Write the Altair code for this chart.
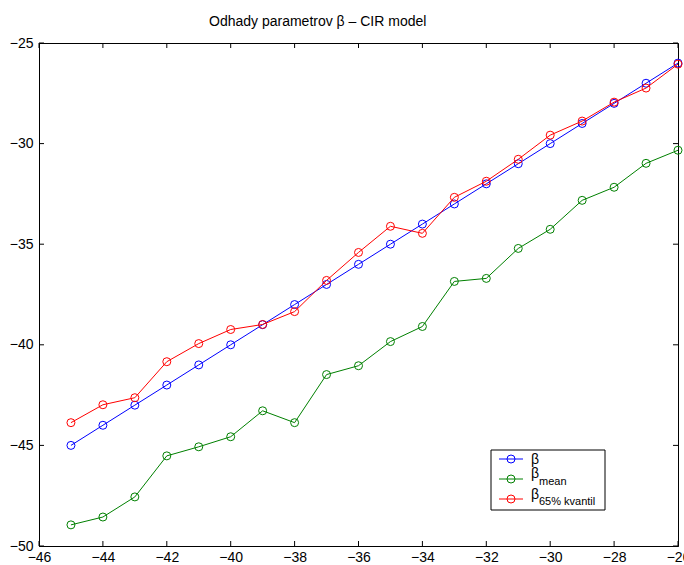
import altair as alt
import pandas as pd

# Parameter values and their estimates
beta_values = [-45, -44, -43, -42, -41, -40, -39, -38, -37, -36,
               -35, -34, -33, -32, -31, -30, -29, -28, -27, -26]
beta_true = list(beta_values)
beta_mean = [-48.95, -48.56, -47.56, -45.52, -45.07, -44.57, -43.28, -43.87, -41.48, -41.04,
             -39.84, -39.09, -36.85, -36.70, -35.21, -34.26, -32.82, -32.17, -30.98, -30.33]
beta_q65 = [-43.87, -42.98, -42.63, -40.84, -39.94, -39.24, -38.99, -38.35, -36.80, -35.41,
            -34.11, -34.46, -32.67, -31.87, -30.78, -29.58, -28.88, -27.94, -27.24, -26.05]

x_ticks = list(range(-46, -25, 2))
y_ticks = list(range(-50, -24, 5))

series = [
    ("β", None, beta_true, "#0000ff"),
    ("β", "mean", beta_mean, "#008000"),
    ("β", "65% kvantil", beta_q65, "#ff0000"),
]

W, H = 639, 503
FONT = "Liberation Sans"

xscale = alt.Scale(domain=[-46, -26], nice=False, zero=False)
yscale = alt.Scale(domain=[-50, -25], nice=False, zero=False)
xaxis = alt.Axis(values=x_ticks, title=None, labelPadding=4)
yaxis = alt.Axis(values=y_ticks, title=None, labelPadding=6)

layers = []

# Series: line with open circle markers, drawn in order
for main, sub, vals, color in series:
    df = pd.DataFrame({"x": beta_values, "y": vals})
    base = alt.Chart(df).encode(
        x=alt.X("x:Q", scale=xscale, axis=xaxis),
        y=alt.Y("y:Q", scale=yscale, axis=yaxis),
    )
    layers.append(base.mark_line(color=color, strokeWidth=1))
    layers.append(base.mark_point(shape="circle", filled=False, color=color,
                                  size=64, strokeWidth=1, opacity=1))

# Inward tick marks on all four sides
dfx = pd.DataFrame({"t": x_ticks})
dfy = pd.DataFrame({"t": y_ticks})
TL = 5
layers.append(alt.Chart(dfx).mark_rule(color="black", strokeWidth=1).encode(
    x=alt.X("t:Q", scale=xscale, axis=xaxis), y=alt.value(H), y2=alt.value(H - TL)))
layers.append(alt.Chart(dfx).mark_rule(color="black", strokeWidth=1).encode(
    x=alt.X("t:Q", scale=xscale, axis=xaxis), y=alt.value(0), y2=alt.value(TL)))
layers.append(alt.Chart(dfy).mark_rule(color="black", strokeWidth=1).encode(
    y=alt.Y("t:Q", scale=yscale, axis=yaxis), x=alt.value(0), x2=alt.value(TL)))
layers.append(alt.Chart(dfy).mark_rule(color="black", strokeWidth=1).encode(
    y=alt.Y("t:Q", scale=yscale, axis=yaxis), x=alt.value(W - TL), x2=alt.value(W)))

# Title
one = pd.DataFrame({"a": [0]})
layers.append(alt.Chart(one).mark_text(
    text="Odhady parametrov β – CIR model", align="left", baseline="alphabetic",
    font=FONT, fontSize=14, color="black").encode(x=alt.value(170), y=alt.value(-17)))

# Legend box
LX, LY = 452, 407
layers.append(alt.Chart(one).mark_rect(fill="white", stroke="black", strokeWidth=1).encode(
    x=alt.value(LX), x2=alt.value(LX + 114), y=alt.value(LY), y2=alt.value(LY + 60)))

main_base = [421, 435, 456]
sub_base = [None, 442, 462]
for i, (main, sub, vals, color) in enumerate(series):
    ry = LY + 9 + 20 * i
    layers.append(alt.Chart(one).mark_rule(color=color, strokeWidth=1).encode(
        x=alt.value(LX + 8), x2=alt.value(LX + 32), y=alt.value(ry)))
    layers.append(alt.Chart(one).mark_point(shape="circle", filled=False, color=color,
                                            size=64, strokeWidth=1, opacity=1).encode(
        x=alt.value(LX + 20), y=alt.value(ry)))
    layers.append(alt.Chart(one).mark_text(text=main, align="left", baseline="alphabetic",
                                           font=FONT, fontSize=14, color="black").encode(
        x=alt.value(LX + 40), y=alt.value(main_base[i])))
    if sub:
        layers.append(alt.Chart(one).mark_text(text=sub, align="left", baseline="alphabetic",
                                               font=FONT, fontSize=11, color="black").encode(
            x=alt.value(LX + 48), y=alt.value(sub_base[i])))

chart = alt.layer(*layers).properties(
    width=W, height=H,
    autosize=alt.AutoSizeParams(type="none"),
    padding={"left": 39, "top": 43, "right": 6, "bottom": 19},
    background="white",
).configure_view(
    stroke="black", strokeWidth=1
).configure_axis(
    labelFont=FONT, labelFontSize=14, labelColor="black",
    domainColor="black", domainWidth=1, ticks=False, tickSize=0, grid=False,
    labelFlush=False, labelOverlap=False, labelBound=False,
)

chart.save("out.html", embed_options={"renderer": "svg", "actions": False})
